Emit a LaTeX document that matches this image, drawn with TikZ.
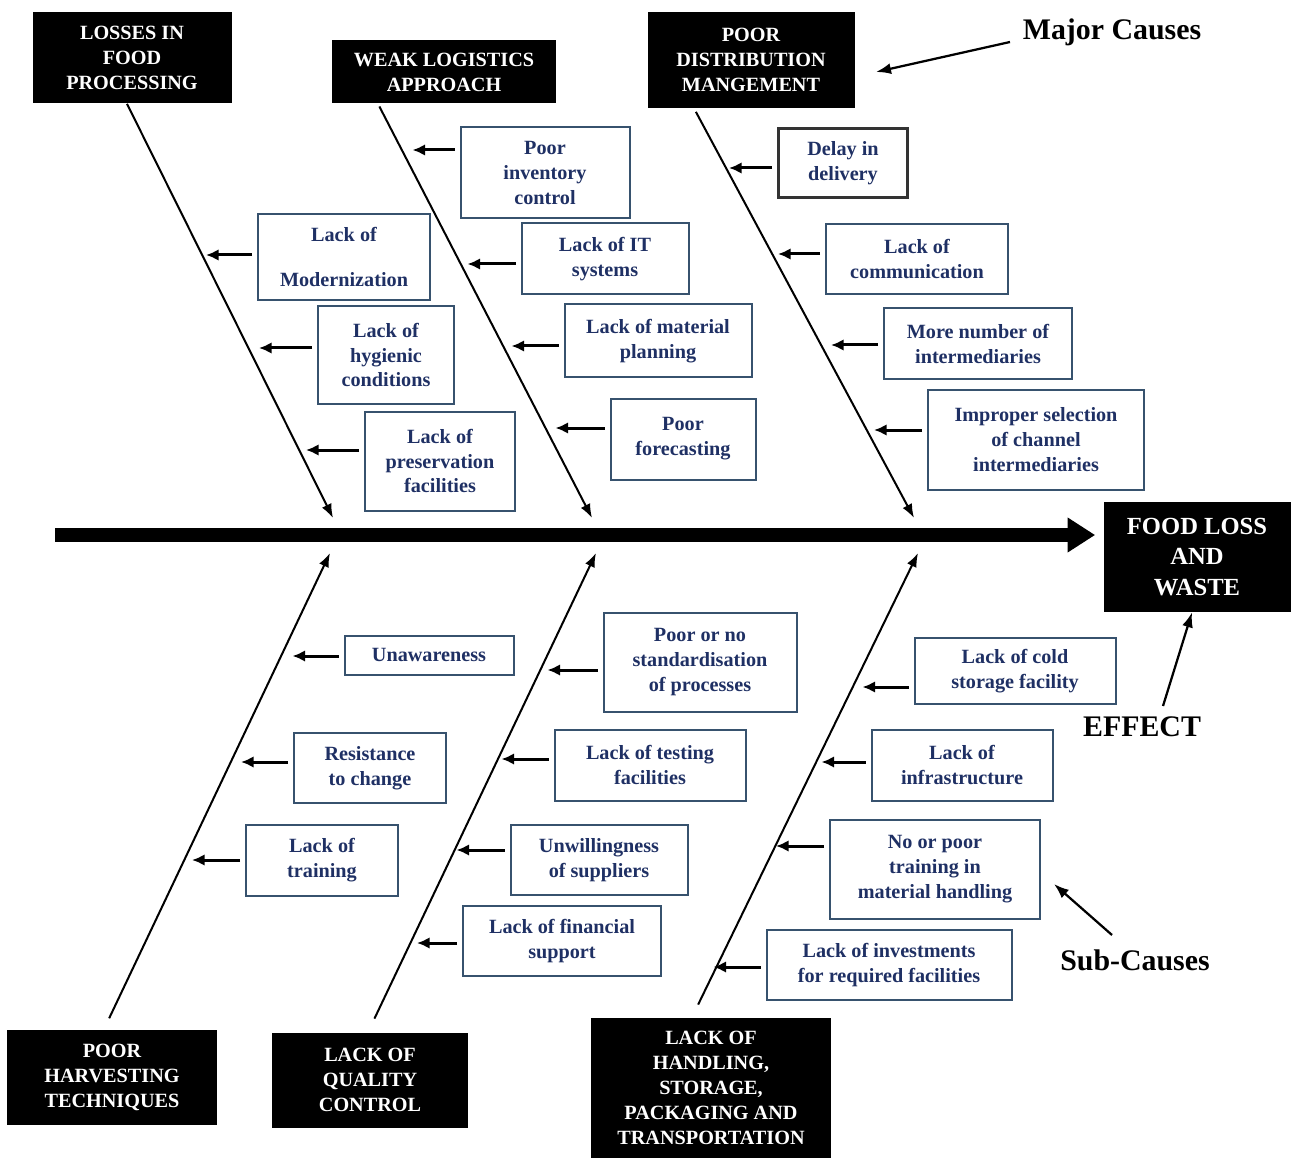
\documentclass[tikz,border=0pt]{standalone}
\usepackage{fontspec}
\setmainfont{Liberation Serif}
\usetikzlibrary{arrows.meta}
\definecolor{CauseNavy}{RGB}{31,48,100}
\definecolor{BoxEdge}{RGB}{55,82,110}

\begin{document}
\begin{tikzpicture}[x=0.2mm, y=-0.2mm, font=\bfseries\fontsize{11.5}{14.2}\selectfont,
    major/.style={fill=black, text=white, align=center, inner sep=0pt},
    subbox/.style={draw=BoxEdge, line width=0.4mm, text=CauseNavy, align=center, inner sep=0pt},
    box size/.style 2 args={minimum width=#1*0.2mm, minimum height=#2*0.2mm},
    spine/.style={line width=2.8mm, -{Triangle[length=5.5mm, width=6.6mm]}},
    bone/.style={line width=0.4mm, -{Latex[length=2.8mm, width=2.1mm]}},
    subarrow/.style={line width=0.6mm, shorten <=1mm, -{Latex[length=2.5mm, width=2.3mm]}},
    note/.style={font=\bfseries\fontsize{17}{20}\selectfont},
    notearrow/.style={line width=0.45mm, -{Latex[length=3mm, width=2.2mm]}}]
    \useasboundingbox (0,0) rectangle (1292,1158);

    % major causes
    \node[major, box size={199}{91}] (proc) at (132,58) {LOSSES IN\\FOOD\\PROCESSING};
    \node[major, box size={224}{63}] (logi) at (444,72) {WEAK LOGISTICS\\APPROACH};
    \node[major, box size={207}{96}] (distr) at (751,60) {POOR\\DISTRIBUTION\\MANGEMENT};
    \node[major, box size={210}{95}] (harv) at (112,1077) {POOR\\HARVESTING\\TECHNIQUES};
    \node[major, box size={196}{95}] (qual) at (370,1080) {LACK OF\\QUALITY\\CONTROL};
    \node[major, box size={240}{141}] (handl) at (711,1088) {LACK OF\\HANDLING,\\STORAGE,\\PACKAGING AND\\TRANSPORTATION};
    \node[major, box size={187}{110}, font=\bfseries\fontsize{14}{17.6}\selectfont] (effect) at (1197,557) {FOOD LOSS\\AND\\WASTE};

    % spine and bones
    \coordinate (tail) at (55,535);
    \draw[spine, shorten >=1.6mm] (tail) -- (effect.west |- tail);
    \coordinate (b1) at (333,518);
    \coordinate (b2) at (592,518);
    \coordinate (b3) at (914,518);
    \coordinate (b4) at (330,553);
    \coordinate (b5) at (596,553);
    \coordinate (b6) at (918,553);
    \draw[bone] (proc.south -| 127,0) -- (b1);
    \draw[bone, shorten <=0.6mm] (logi.south -| 378,0) -- (b2);
    \draw[bone, shorten <=0.8mm] (distr.south -| 694,0) -- (b3);
    \draw[bone, shorten <=2.4mm] (harv.north -| 104,0) -- (b4);
    \draw[bone, shorten <=3mm] (qual.north -| 368,0) -- (b5);
    \draw[bone, shorten <=2.8mm] (handl.north -| 692,0) -- (b6);

    % sub-causes: losses in food processing
    \node[subbox, box size={172}{86}] (mod) at (344,257) {Lack of\\[11pt]Modernization};
    \node[subbox, box size={136}{97}] (hyg) at (386,355) {Lack of\\hygienic\\conditions};
    \node[subbox, box size={150}{99}] (pres) at (440,461) {Lack of\\preservation\\facilities};
    \draw[subarrow] (mod.west |- 0,255) -- ++(-51,0);
    \draw[subarrow] (hyg.west |- 0,348) -- ++(-58,0);
    \draw[subarrow] (pres.west |- 0,450) -- ++(-58,0);

    % sub-causes: weak logistics approach
    \node[subbox, box size={169}{91}] (inv) at (545,173) {Poor\\inventory\\control};
    \node[subbox, box size={167}{71}] (its) at (605,259) {Lack of IT\\systems};
    \node[subbox, box size={187}{73}] (mat) at (658,341) {Lack of material\\planning};
    \node[subbox, box size={145}{81}] (fore) at (683,439) {Poor\\forecasting};
    \draw[subarrow] (inv.west |- 0,150) -- ++(-47,0);
    \draw[subarrow] (its.west |- 0,264) -- ++(-53,0);
    \draw[subarrow] (mat.west |- 0,346) -- ++(-52,0);
    \draw[subarrow] (fore.west |- 0,428) -- ++(-54,0);

    % sub-causes: poor distribution management
    \node[subbox, box size={129}{69}, draw=black!80, line width=0.6mm] (delay) at (843,163) {Delay in\\delivery};
    \node[subbox, box size={182}{70}] (comm) at (917,259) {Lack of\\communication};
    \node[subbox, box size={188}{71}] (interm) at (978,344) {More number of\\intermediaries};
    \node[subbox, box size={216}{100}] (chan) at (1036,440) {Improper selection\\of channel\\intermediaries};
    \draw[subarrow] (delay.west |- 0,168) -- ++(-48,0);
    \draw[subarrow] (comm.west |- 0,254) -- ++(-47,0);
    \draw[subarrow] (interm.west |- 0,345) -- ++(-52,0);
    \draw[subarrow] (chan.west |- 0,430) -- ++(-53,0);

    % sub-causes: poor harvesting techniques
    \node[subbox, box size={169}{39}] (unaw) at (429,655) {Unawareness};
    \node[subbox, box size={152}{70}] (resist) at (370,768) {Resistance\\to change};
    \node[subbox, box size={152}{71}] (train) at (322,860) {Lack of\\training};
    \draw[subarrow] (unaw.west |- 0,656) -- ++(-51,0);
    \draw[subarrow] (resist.west |- 0,762) -- ++(-52,0);
    \draw[subarrow] (train.west |- 0,860) -- ++(-53,0);

    % sub-causes: lack of quality control
    \node[subbox, box size={193}{99}] (stand) at (700,662) {Poor or no\\standardisation\\of processes};
    \node[subbox, box size={191}{71}] (test) at (650,765) {Lack of testing\\facilities};
    \node[subbox, box size={177}{70}] (unwill) at (599,860) {Unwillingness\\of suppliers};
    \node[subbox, box size={198}{70}] (fin) at (562,941) {Lack of financial\\support};
    \draw[subarrow] (stand.west |- 0,670) -- ++(-55,0);
    \draw[subarrow] (test.west |- 0,759) -- ++(-52,0);
    \draw[subarrow] (unwill.west |- 0,850) -- ++(-53,0);
    \draw[subarrow] (fin.west |- 0,943) -- ++(-45,0);

    % sub-causes: handling, storage, packaging and transportation
    \node[subbox, box size={201}{66}] (cold) at (1015,671) {Lack of cold\\storage facility};
    \node[subbox, box size={181}{71}] (infra) at (962,765) {Lack of\\infrastructure};
    \node[subbox, box size={210}{99}] (mhand) at (935,869) {No or poor\\training in\\material handling};
    \node[subbox, box size={245}{70}] (invest) at (889,965) {Lack of investments\\for required facilities};
    \draw[subarrow] (cold.west |- 0,687) -- ++(-51,0);
    \draw[subarrow] (infra.west |- 0,762) -- ++(-49,0);
    \draw[subarrow] (mhand.west |- 0,846) -- ++(-53,0);
    \draw[subarrow] (invest.west |- 0,967) -- ++(-52,0);

    % legend notes
    \node[note] (majc) at (1112,32) {Major Causes};
    \node[note] (eff) at (1142,727) {EFFECT};
    \node[note] (subc) at (1135,960) {Sub-Causes};
    \coordinate (majtip) at (876,72);
    \coordinate (subtip) at (1054,884);
    \draw[notearrow] (majc) ++(-102,10) -- (majtip);
    \draw[notearrow] (eff) ++(21,-21) -- (effect.south -| 1192,0);
    \draw[notearrow] (subc) ++(-23,-25) -- (subtip);
\end{tikzpicture}
\end{document}
